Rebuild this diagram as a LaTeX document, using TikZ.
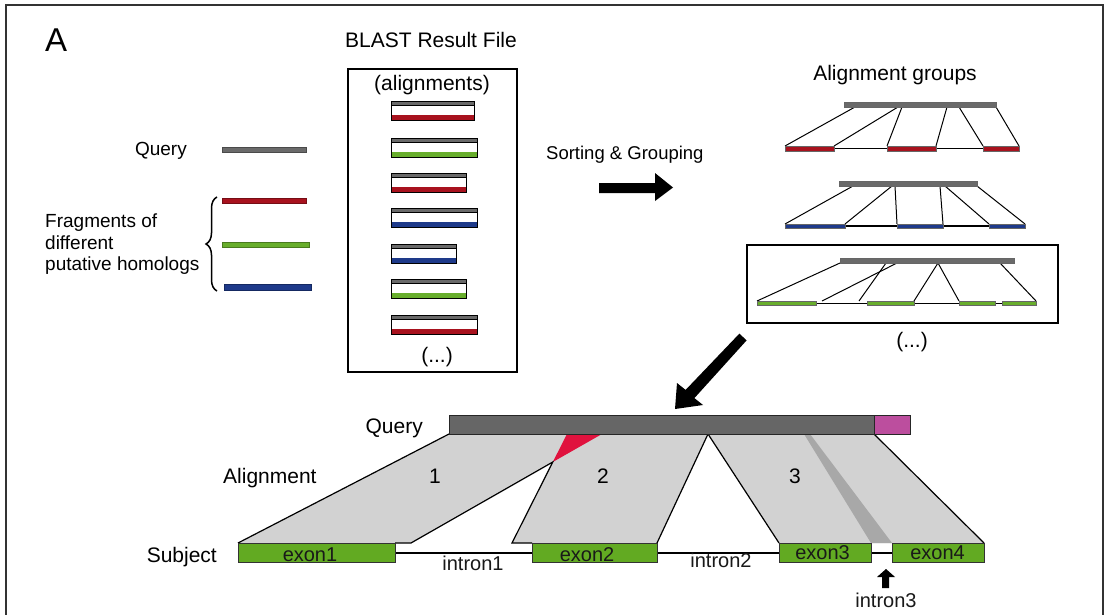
\documentclass[tikz,border=0pt]{standalone}
\usepackage{fontspec}
\setmainfont{Liberation Sans}
\usetikzlibrary{decorations.pathreplacing}
\definecolor{qgray}{HTML}{6A6A6A}
\definecolor{qdark}{HTML}{666666}
\definecolor{fred}{HTML}{A8121E}
\definecolor{fgreen}{HTML}{68AE2C}
\definecolor{fblue}{HTML}{1E3A8A}
\definecolor{exgreen}{HTML}{62AA22}
\definecolor{algray}{HTML}{D2D2D2}
\definecolor{bandgray}{HTML}{A8A8A8}
\definecolor{crim}{HTML}{E0123E}
\definecolor{pinkq}{HTML}{BC4E9E}
\newcommand\myalbar[4]{%
  \fill[white] (391,#3) rectangle (#2,#3+19);
  \fill[qgray] (391,#3) rectangle (#2,#3+4.5);
  \fill[#4] (391,#3+14) rectangle (#2,#3+19);
  \draw[line width=0.9pt] (391,#3) rectangle (#2,#3+19);
  \draw[line width=0.6pt] (391,#3+4.5) -- (#2,#3+4.5);
}
\begin{document}
\begin{tikzpicture}[x=1pt,y=-1pt,
  lbl/.style={inner sep=0pt, font=\fontsize{21}{24}\selectfont},
  lbls/.style={inner sep=0pt, font=\fontsize{19}{22}\selectfont},
  exl/.style={inner sep=0pt, font=\fontsize{20}{24}\selectfont, text=black!90},
  thinln/.style={line width=1pt},
  seg/.style={draw=black!60, line width=0.4pt}]
\useasboundingbox (0,0) rectangle (1108,615);
\fill[white] (0,0) rectangle (1108,615);
% frame
\draw[line width=1.4pt, black!80] (6,620) -- (6,5) -- (1103,5) -- (1103,620);

% ---------- texts top ----------
\node[inner sep=0pt, font=\fontsize{33}{36}\selectfont, anchor=base west] (tA) at (45,52) {A};
\node[lbl, anchor=base] (tblast) at (431,48) {BLAST Result File};
\node[lbl, anchor=base] (taln) at (432,91) {(alignments)};
\node[lbls, anchor=base east] (tq) at (187,156) {Query};
\node[lbls, anchor=base west] (tf1) at (45,227) {Fragments of};
\node[lbls, anchor=base west] (tf2) at (45,249) {different};
\node[lbls, anchor=base west] (tf3) at (45,270) {putative homologs};
\node[inner sep=0pt, font=\fontsize{18.5}{22}\selectfont, anchor=base west] (tsort) at (546,159) {Sorting \& Grouping};
\node[lbl, anchor=base] (tgroups) at (895,81) {Alignment groups};
\node[lbl, anchor=base] (tdots1) at (437,362) {(...)};
\node[lbl, anchor=base] (tdots2) at (912,347) {(...)};

% ---------- left fragments ----------
\filldraw[fill=qgray, draw=qgray!70!black, line width=0.4pt] (222,147) rectangle (306,152);
\filldraw[fill=fred, draw=fred!70!black, line width=0.4pt] (222,198) rectangle (306,203);
\filldraw[fill=fgreen, draw=fgreen!70!black, line width=0.4pt] (222,242) rectangle (309,247);
\filldraw[fill=fblue, draw=fblue!70!black, line width=0.4pt] (224,284) rectangle (311,290);
\draw[line width=1.5pt, decorate, decoration={brace, amplitude=11pt}] (217,291) -- (217,197);

% ---------- BLAST box ----------
\draw[line width=1.2pt] (348,69) rectangle (517,372);
\myalbar{391}{474}{101}{fred}
\myalbar{391}{477}{138}{fgreen}
\myalbar{391}{466}{173}{fred}
\myalbar{391}{477}{208}{fblue}
\myalbar{391}{456}{244}{fblue}
\myalbar{391}{466}{279}{fgreen}
\myalbar{391}{477}{315}{fred}

% ---------- sorting arrow ----------
\fill (599,183) -- (655,183) -- (655,173) -- (673,187.5) -- (655,201) -- (655,193) -- (599,193) -- cycle;

% ---------- group 1 (red) ----------
\draw[line width=1.6pt] (834,148.5) -- (983,148.5);
\draw[thinln] (855,107) -- (785,146);
\draw[thinln] (898,107) -- (834,146);
\draw[thinln] (902,107) -- (887,146);
\draw[thinln] (947,107) -- (936,146);
\draw[thinln] (959,107) -- (983,146);
\draw[thinln] (996,107) -- (1019,146);
\filldraw[fill=qgray, seg] (844,102) rectangle (996,107);
\filldraw[fill=fred, seg] (785,146) rectangle (834,151);
\filldraw[fill=fred, seg] (887,146) rectangle (936,151);
\filldraw[fill=fred, seg] (983,146) rectangle (1019,151);

% ---------- group 2 (blue) ----------
\draw[line width=1.4pt] (845,226) -- (989,226);
\draw[thinln] (853,186) -- (785,224);
\draw[thinln] (892,186) -- (845,224);
\draw[thinln] (895,186) -- (897,224);
\draw[thinln] (940,186) -- (943,224);
\draw[thinln] (945,186) -- (989,224);
\draw[thinln] (977,186) -- (1025,224);
\filldraw[fill=qgray, seg] (839,181) rectangle (977,186);
\filldraw[fill=fblue, seg] (785,224) rectangle (845,228.5);
\filldraw[fill=fblue, seg] (897,224) rectangle (943,228.5);
\filldraw[fill=fblue, seg] (989,224) rectangle (1025,228.5);

% ---------- group 3 (green, boxed) ----------
\draw[line width=1.2pt] (747,245) rectangle (1058,323);
\draw[line width=1.3pt] (816,303.5) -- (1002,303.5);
\draw[thinln] (840,263) -- (757,301);
\draw[thinln] (897,263) -- (822,301);
\draw[thinln] (886,263) -- (859,301);
\draw[thinln] (938,263) -- (914,301);
\draw[thinln] (938,263) -- (959,301);
\draw[thinln] (1000,263) -- (1036,301);
\filldraw[fill=qgray, seg] (840,258) rectangle (1014,263);
\filldraw[fill=fgreen, seg] (757,301) rectangle (816,305.5);
\filldraw[fill=fgreen, seg] (867,301) rectangle (914,305.5);
\filldraw[fill=fgreen, seg] (959,301) rectangle (995,305.5);
\filldraw[fill=fgreen, seg] (1002,301) rectangle (1036,305.5);

% ---------- diagonal arrow ----------
\fill (739.4,333.6) -- (685.6,389.9) -- (677,383) -- (675,409) -- (703,405) -- (694.4,398.1) -- (746.6,340.4) -- cycle;

% ---------- bottom panel ----------
\coordinate (q1) at (449,434);
\coordinate (a1r) at (602,434);
\coordinate (a2l) at (567,434);
\coordinate (pk) at (708,434);
\coordinate (q2) at (874,434);
\coordinate (s1) at (238,543);
\coordinate (s1r) at (411,543);
\coordinate (s2l) at (512,543);
\coordinate (s2r) at (657,543);
\coordinate (s3l) at (779,543);
\coordinate (s4r) at (984,543);
\coordinate (x) at (552.8,462);

\fill[algray] (q1) -- (a1r) -- (s1r) -- (s1) -- cycle;
\fill[algray] (a2l) -- (pk) -- (s2r) -- (s2l) -- cycle;
\fill[algray] (pk) -- (q2) -- (s4r) -- (s3l) -- cycle;
\fill[crim] (a2l) -- (a1r) -- (x) -- cycle;
\fill[bandgray] (804,434) -- (810,434) -- (892,543) -- (871,543) -- cycle;

\draw[line width=1.2pt] (q1) -- (s1);
\draw[line width=1.2pt] (395,543) -- (s1r) -- (x) -- (s2l) -- (532,543);
\draw[line width=1.2pt] (s2r) -- (pk) -- (s3l);
\draw[line width=1.2pt] (q2) -- (s4r);

% introns
\draw[line width=2pt] (395,553) -- (532,553);
\draw[line width=2pt] (657,553) -- (779,553);
\draw[line width=2pt] (871,553) -- (892,553);

% exons
\filldraw[fill=exgreen, draw=black!80, line width=0.9pt] (238,543) rectangle (395,562);
\filldraw[fill=exgreen, draw=black!80, line width=0.9pt] (532,543) rectangle (657,562);
\filldraw[fill=exgreen, draw=black!80, line width=0.9pt] (779,543) rectangle (871,562);
\filldraw[fill=exgreen, draw=black!80, line width=0.9pt] (892,543) rectangle (984,562);

% query bar
\filldraw[fill=qdark, draw=black!85, line width=0.9pt] (449,415) rectangle (874,434);
\filldraw[fill=pinkq, draw=black!85, line width=0.9pt] (874,415) rectangle (910,434);

% intron3 arrow
\fill (882,588) -- (882,577) -- (877,577) -- (886,569) -- (895,577) -- (889,577) -- (889,588) -- cycle;

% bottom labels
\node[lbl, anchor=base east] (tQ) at (423,433) {Query};
\node[lbl, anchor=base west] (tAl) at (223,483) {Alignment};
\node[lbl, anchor=base east] (tS) at (217,562) {Subject};
\node[lbl, anchor=base] (n1) at (435,483) {1};
\node[lbl, anchor=base] (n2) at (603,483) {2};
\node[lbl, anchor=base] (n3) at (795,483) {3};
\node[exl, anchor=base] (e1) at (310,561) {exon1};
\node[exl, anchor=base] (e2) at (587,561) {exon2};
\node[exl, anchor=base] (e3) at (822.5,559) {exon3};
\node[exl, anchor=base] (e4) at (937.5,559) {exon4};
\node[exl, anchor=base] (i1) at (473,570) {intron1};
\node[exl, anchor=base] (i2) at (721,567) {intron2};
\node[exl, anchor=base] (i3) at (886,607) {intron3};
\end{tikzpicture}
\end{document}
